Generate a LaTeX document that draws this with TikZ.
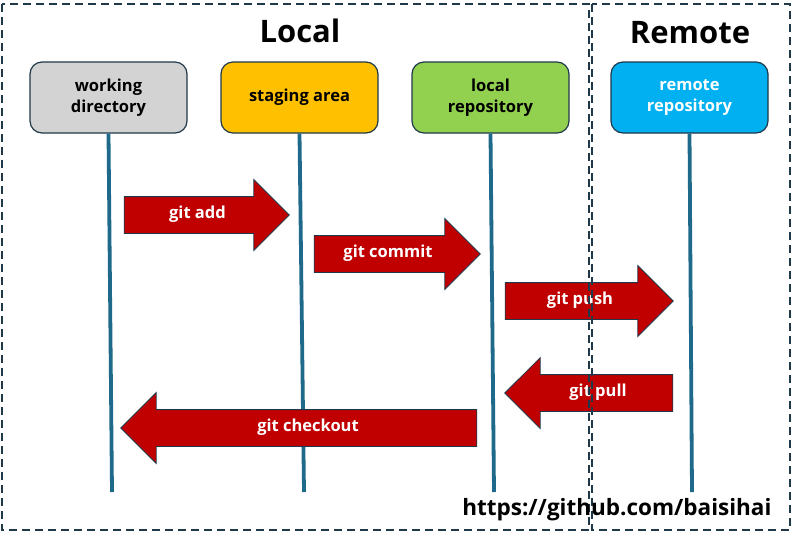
\documentclass[tikz,border=0pt]{standalone}
\usepackage{fontspec}
\setmainfont{Open Sans}
\usepackage{tikz}
\usetikzlibrary{shapes.arrows, positioning}
\definecolor{framecolor}{RGB}{31, 56, 74}
\definecolor{lifecolor}{RGB}{31, 105, 138}
\definecolor{wdgray}{RGB}{211, 211, 211}
\definecolor{stageyellow}{RGB}{255, 192, 0}
\definecolor{localgreen}{RGB}{146, 208, 80}
\definecolor{remoteblue}{RGB}{0, 176, 240}
\definecolor{cmdred}{RGB}{192, 0, 0}

\begin{document}
\begin{tikzpicture}[x=1pt, y=-1pt,
    area/.style={draw=framecolor, line width=1.8pt, dash pattern=on 8pt off 5pt},
    title/.style={font=\fontsize{31}{36}\selectfont\bfseries},
    stage/.style={draw=framecolor, line width=1.2pt, rounded corners=12pt, minimum width=157, minimum height=71, align=center, font=\fontsize{16.5}{21}\selectfont\bfseries},
    lifeline/.style={draw=lifecolor, line width=3.8pt},
    cmd/.style={single arrow, single arrow head extend=17pt, single arrow tip angle=90, fill=cmdred, draw=framecolor, line width=0.8pt, text=white, font=\fontsize{16.5}{18}\selectfont\bfseries, text height=11pt, text depth=4pt, inner ysep=10.5pt, inner xsep=0pt}
]
    \useasboundingbox (0,0) rectangle (795,539);

    % Titles
    \node[title] (localtitle) at (300,31) {Local};
    \node[title] (remotetitle) at (690,33) {Remote};

    % Four places
    \node[stage, fill=wdgray] (workdir) at (108.5,97.5) {working\\directory};
    \node[stage, fill=stageyellow] (staging) at (299.5,97.5) {staging area};
    \node[stage, fill=localgreen] (localrepo) at (490.5,97.5) {local\\repository};
    \node[stage, fill=remoteblue, text=white] (remoterepo) at (689.5,97.5) {remote\\repository};

    % Lifelines
    \coordinate (workdirend) at (112,492);
    \coordinate (stagingend) at (304,492);
    \coordinate (localrepoend) at (494,492);
    \coordinate (remoterepoend) at (692,492);
    \draw[lifeline] (workdir.south) -- (workdirend);
    \draw[lifeline] (staging.south) -- (stagingend);
    \draw[lifeline] (localrepo.south) -- (localrepoend);
    \draw[lifeline] (remoterepo.south) -- (remoterepoend);

    % Commands
    \node[cmd, minimum height=165] (add) at (197.5,215) {git add};
    \node[cmd, minimum height=166] (commit) at (388,254) {git commit};
    \node[cmd, minimum height=168] (push) at (580,301) {git push};
    \node[cmd, minimum height=168, shape border rotate=180] (pull) at (598,393) {git pull};
    \node[cmd, minimum height=356, shape border rotate=180] (checkout) at (308,428) {git checkout};

    % Local and remote areas
    \draw[area] (2,4) rectangle (589,530);
    \draw[area] (592,4) rectangle (790,530);

    \node[anchor=base east, font=\fontsize{22.5}{26}\selectfont\bfseries] (url) at (775,515) {https://github.com/baisihai};
\end{tikzpicture}
\end{document}
